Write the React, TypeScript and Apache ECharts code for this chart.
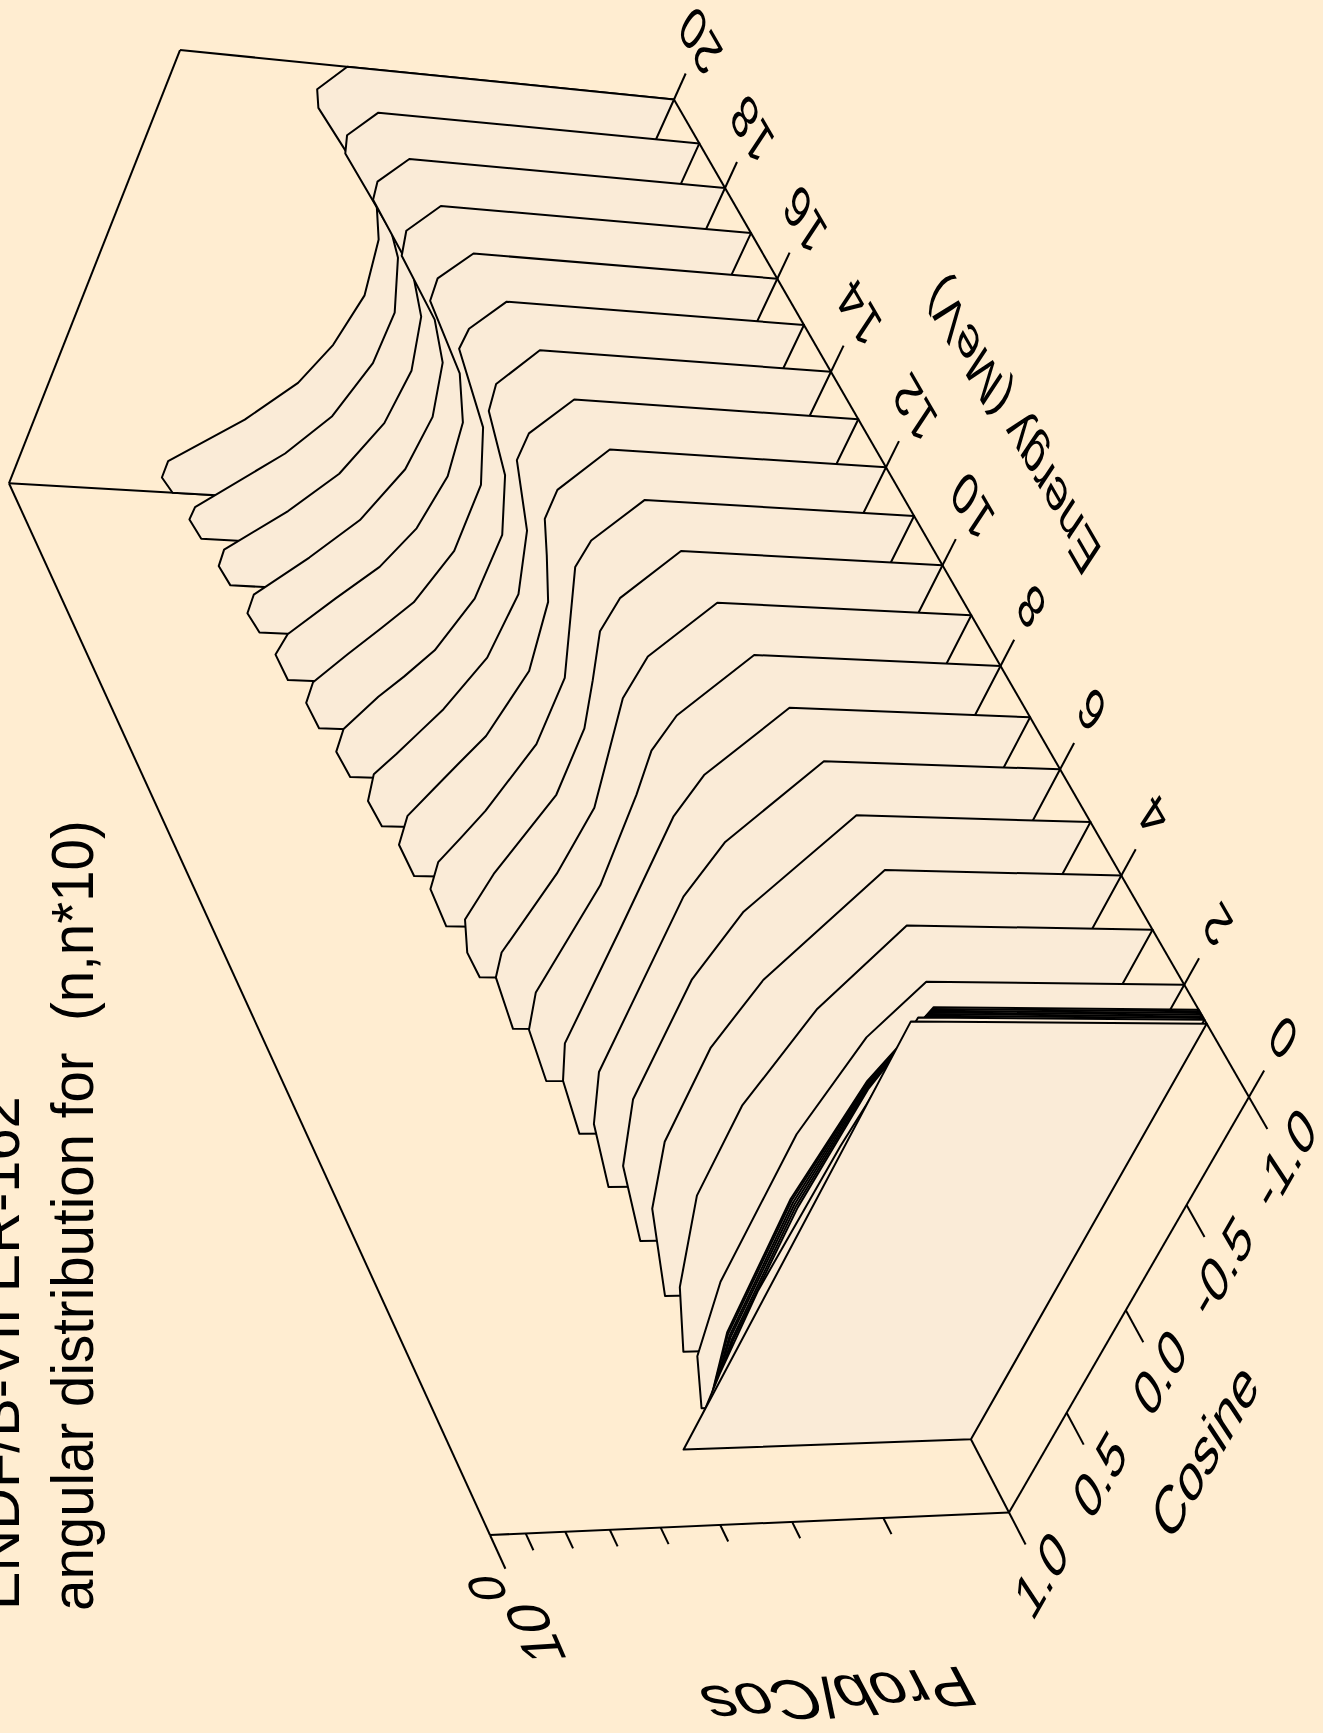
import React, { useEffect, useRef } from "react";
import * as echarts from "echarts";

const titleLines = ["ENDF/B-VII ER-162", "angular distribution for  (n,n*10)"];
const energyTicks = [0, 2, 4, 6, 8, 10, 12, 14, 16, 18, 20];
const cosTicks = [1, 0.5, 0, -0.5, -1];
const cosTickLabels = ["1.0", "0.5", "0.0", "-0.5", "-1.0"];
const probMinorTicks = [0.3, 0.4, 0.5, 0.6, 0.7, 0.8, 0.9];

const cosE20 = [-1, -0.89, -0.81, -0.43, -0.25, 0.01, 0.25, 0.44, 0.63, 0.85, 0.93, 1];
const probE20 = [0.59, 0.629, 0.612, 0.453, 0.426, 0.413, 0.427, 0.454, 0.513, 0.621, 0.62, 0.587];
const cosE19 = [-1, -0.89, -0.81, -0.48, -0.37, -0.12, 0.12, 0.38, 0.57, 0.85, 0.91, 1];
const probE19 = [0.577, 0.617, 0.606, 0.473, 0.448, 0.42, 0.42, 0.445, 0.492, 0.611, 0.612, 0.574];
const cosE18 = [-1, -0.89, -0.81, -0.5, -0.31, -0.06, 0.19, 0.44, 0.63, 0.83, 0.91, 1];
const probE18 = [0.565, 0.605, 0.599, 0.48, 0.441, 0.422, 0.428, 0.461, 0.516, 0.601, 0.598, 0.561];
const cosE17 = [-1, -0.88, -0.77, -0.5, -0.31, -0.06, 0.19, 0.44, 0.63, 0.82, 0.91, 1];
const probE17 = [0.553, 0.595, 0.584, 0.484, 0.445, 0.426, 0.432, 0.465, 0.519, 0.589, 0.586, 0.549];
const cosE16 = [-1, -0.88, -0.78, -0.47, -0.25, 0, 0.25, 0.44, 0.6, 0.78, 0.88, 1];
const probE16 = [0.54, 0.583, 0.579, 0.479, 0.443, 0.431, 0.442, 0.471, 0.519, 0.575, 0.581, 0.539];
const cosE15 = [-1, -0.87, -0.78, -0.44, -0.18, 0.13, 0.38, 0.51, 0.64, 0.78, 0.88, 1];
const probE15 = [0.527, 0.57, 0.572, 0.477, 0.443, 0.439, 0.464, 0.496, 0.532, 0.571, 0.567, 0.525];
const cosE14 = [-1, -0.84, -0.72, -0.44, -0.17, 0.13, 0.38, 0.51, 0.61, 0.77, 0.88, 1];
const probE14 = [0.515, 0.562, 0.554, 0.482, 0.447, 0.445, 0.469, 0.498, 0.525, 0.56, 0.555, 0.512];
const cosE13 = [-1, -0.84, -0.72, -0.41, -0.12, 0.18, 0.43, 0.54, 0.65, 0.75, 0.88, 1];
const probE13 = [0.502, 0.55, 0.55, 0.483, 0.453, 0.456, 0.486, 0.507, 0.529, 0.552, 0.541, 0.499];
const cosE12 = [-1, -0.81, -0.68, -0.52, -0.31, 0.01, 0.32, 0.45, 0.58, 0.71, 0.85, 1];
const probE12 = [0.488, 0.541, 0.54, 0.51, 0.475, 0.456, 0.475, 0.497, 0.519, 0.542, 0.534, 0.486];
const cosE11 = [-1, -0.81, -0.69, -0.19, 0.12, 0.44, 0.57, 0.69, 0.82, 1];
const probE11 = [0.476, 0.529, 0.535, 0.471, 0.467, 0.497, 0.516, 0.535, 0.527, 0.474];
const cosE10 = [-1, -0.78, -0.63, -0.41, -0.19, 0.12, 0.5, 0.72, 0.88, 1];
const probE10 = [0.463, 0.521, 0.528, 0.503, 0.481, 0.476, 0.515, 0.527, 0.498, 0.461];
const cosE9 = [-1, -0.75, -0.56, -0.06, 0.25, 0.63, 0.75, 1];
const probE9 = [0.451, 0.515, 0.523, 0.486, 0.495, 0.523, 0.513, 0.449];
const cosE8 = [-1, -0.72, -0.56, -0.36, 0.06, 0.57, 0.75, 1];
const probE8 = [0.439, 0.508, 0.521, 0.511, 0.499, 0.519, 0.501, 0.438];
const cosE7 = [-1, -0.69, -0.5, 0.02, 0.56, 0.74, 1];
const probE7 = [0.43, 0.504, 0.52, 0.517, 0.516, 0.49, 0.428];
const cosE6 = [-1, -0.63, -0.38, 0.44, 0.69, 1];
const probE6 = [0.423, 0.505, 0.528, 0.524, 0.491, 0.424];
const cosE5 = [-1, -0.56, -0.25, 0.31, 0.63, 1];
const probE5 = [0.419, 0.509, 0.537, 0.535, 0.497, 0.417];
const cosE4 = [-1, -0.5, -0.19, 0.25, 0.57, 1];
const probE4 = [0.421, 0.513, 0.542, 0.539, 0.504, 0.42];
const cosE3 = [-1, -0.62, -0.18, 0.24, 0.68, 1];
const probE3 = [0.432, 0.497, 0.536, 0.534, 0.486, 0.432];
const cosE2 = [-1, -0.75, -0.31, 0.38, 0.74, 1];
const probE2 = [0.447, 0.49, 0.519, 0.517, 0.492, 0.445];
const cosNearThreshold = [-1, -0.81, -0.67, -0.13, 0.5, 0.86, 1];
const probE155 = [0.456, 0.478, 0.495, 0.517, 0.506, 0.474, 0.455];
const probE152 = [0.458, 0.48, 0.497, 0.517, 0.506, 0.476, 0.457];
const probE149 = [0.461, 0.482, 0.498, 0.516, 0.505, 0.477, 0.46];
const probE146 = [0.464, 0.484, 0.499, 0.515, 0.505, 0.479, 0.463];
const probE143 = [0.468, 0.486, 0.5, 0.514, 0.504, 0.481, 0.467];
const probE140 = [0.473, 0.489, 0.501, 0.513, 0.504, 0.483, 0.472];
const cosE137 = [-1, -0.61, -0.42, 0.25, 0.65, 1];
const probE137 = [0.486, 0.494, 0.5, 0.509, 0.5, 0.487];
const cosE130 = [-1, 1];
const probE130 = [0.5, 0.5];

const curves: [number, number[], number[]][] = [
  [20, cosE20, probE20], [19, cosE19, probE19], [18, cosE18, probE18], [17, cosE17, probE17],
  [16, cosE16, probE16], [15, cosE15, probE15], [14, cosE14, probE14], [13, cosE13, probE13],
  [12, cosE12, probE12], [11, cosE11, probE11], [10, cosE10, probE10], [9, cosE9, probE9],
  [8, cosE8, probE8], [7, cosE7, probE7], [6, cosE6, probE6], [5, cosE5, probE5],
  [4, cosE4, probE4], [3, cosE3, probE3], [2, cosE2, probE2],
  [1.55, cosNearThreshold, probE155], [1.52, cosNearThreshold, probE152],
  [1.49, cosNearThreshold, probE149], [1.46, cosNearThreshold, probE146],
  [1.43, cosNearThreshold, probE143], [1.4, cosNearThreshold, probE140],
  [1.37, cosE137, probE137], [1.3, cosE130, probE130],
];

const BG = "#FFEDD1";
const FILL = "#FAEBD7";
const FONT = '"Liberation Sans", Arial, sans-serif';
const LINE = 2;
const P_MIN = 0.2;
const P_MAX = 1;

// perspective view of the (cosine, energy, log prob) box
function project(cos: number, energy: number, prob: number): [number, number] {
  const u = (1 - cos) / 2;
  const v = energy / 20;
  const w = Math.log(prob / P_MIN) / Math.log(P_MAX / P_MIN);
  const hx = 1009 + 176 * u - 455.2 * v - 544.1 * w;
  const hy = 1512.5 - 471.7 * u - 933.1 * v - 56.1 * w;
  const hw = 1 - 0.0512 * u + 0.134 * v - 0.0512 * w;
  return [hx / hw, hy / hw];
}

const TICK_E = 0.56; // energy units
const TICK_C = 0.12; // cosine units

type Seg = [number, number, number, number, number, number];
const frameSegments: Seg[] = [
  [1, 0, P_MIN, -1, 0, P_MIN],
  [-1, 0, P_MIN, -1, 20, P_MIN],
  [1, 0, P_MIN, 1, 20, P_MIN],
  [1, 0, P_MIN, 1, 0, P_MAX],
  [1, 0, P_MAX, 1, 20, P_MAX],
  [1, 20, P_MAX, -1, 20, P_MAX],
  [-1, 20, P_MAX, -1, 20, P_MIN],
  [1, 20, P_MAX, 1, 20, P_MIN],
  ...energyTicks.map((e): Seg => [-1, e, P_MIN, -1 - TICK_C, e, P_MIN]),
  ...cosTicks.map((c): Seg => [c, 0, P_MIN, c, -TICK_E, P_MIN]),
  [1, 0, P_MAX, 1, -TICK_E, P_MAX],
  ...probMinorTicks.map((p): Seg => [1, 0, p, 1, -TICK_E / 2, p]),
];

type Label = { text: string; pos: [number, number, number]; dx?: number; dy?: number; size: number; a: number[]; b: number[] };
const A_E = [-0.5, -0.866];
const B_E = [-0.5, 0.866];
const A_C = [0.5, -0.866];
const B_C = [-0.5, -0.866];
const labels: Label[] = [
  ...energyTicks.map((e): Label => ({ text: String(e), pos: [-1.27, e, P_MIN], size: 52, a: A_E, b: B_E })),
  ...cosTicks.map((c, i): Label => ({ text: cosTickLabels[i], pos: [c, -1.08, P_MIN], size: 55, a: A_C, b: B_C })),
  { text: "Energy (MeV)", pos: [-1.63, 10, P_MIN], size: 52, a: A_E, b: B_E },
  { text: "Cosine", pos: [-0.01, -2.45, P_MIN], size: 58, a: A_C, b: B_C },
  { text: "Prob/Cos", pos: [1, -2.9, 0.45], size: 64, a: [-0.995, 0.08], b: [0.5, 0.866] },
  { text: "10", pos: [1, 0, P_MAX], dx: 45, dy: 98, size: 58, a: [-0.4, -0.916], b: [-1, 0.04] },
  { text: "0", pos: [1, 0, P_MAX], dx: -3, dy: 53, size: 50, a: [-0.4, -0.916], b: [-1, 0.04] },
];

function shear(a: number[], b: number[]) {
  const rotation = Math.atan2(-a[1], a[0]);
  const nx = -a[1];
  const ny = a[0];
  const t = -b[0] * a[0] - b[1] * a[1];
  const n = -b[0] * nx - b[1] * ny;
  return { rotation, skewX: Math.atan(t), scaleY: n };
}

export default function App() {
  const ref = useRef<HTMLDivElement>(null);
  useEffect(() => {
    document.body.style.margin = "0";
    document.body.style.background = BG;
    const chart = echarts.init(ref.current!, undefined, { renderer: "svg" });
    const hiddenAxis = { type: "value", show: false };
    chart.setOption({
      animation: false,
      backgroundColor: BG,
      grid: { left: 0, right: 0, top: 0, bottom: 0 },
      xAxis: { ...hiddenAxis, min: 0, max: 1323 },
      yAxis: { ...hiddenAxis, min: 0, max: 1733, inverse: true },
      graphic: [
        { type: "text", x: -32, y: 1610, rotation: Math.PI / 2, scaleX: 0.963, style: { text: titleLines[0], font: `60px ${FONT}`, fill: "#000", align: "left", verticalAlign: "top" } },
        { type: "text", x: 42, y: 1611, rotation: Math.PI / 2, scaleX: 0.941, style: { text: titleLines[1], font: `60px ${FONT}`, fill: "#000", align: "left", verticalAlign: "top" } },
      ],
      series: [
        {
          type: "custom",
          coordinateSystem: "cartesian2d",
          clip: false,
          silent: true,
          z: 1,
          data: frameSegments.map((_, i) => [i]),
          renderItem: (params: any, api: any) => {
            const s = frameSegments[params.dataIndex];
            return {
              type: "polyline",
              shape: { points: [api.coord(project(s[0], s[1], s[2])), api.coord(project(s[3], s[4], s[5]))] },
              style: { stroke: "#000", fill: "none", lineWidth: LINE },
            };
          },
        },
        {
          type: "custom",
          coordinateSystem: "cartesian2d",
          clip: false,
          silent: true,
          z: 2,
          data: curves.map((_, i) => [i]),
          renderItem: (params: any, api: any) => {
            const [e, cos, prob] = curves[params.dataIndex];
            const pts = [project(cos[0], e, P_MIN)];
            cos.forEach((c, i) => pts.push(project(c, e, prob[i])));
            pts.push(project(cos[cos.length - 1], e, P_MIN));
            return {
              type: "polygon",
              shape: { points: pts.map((p) => api.coord(p)) },
              style: { fill: FILL, stroke: "#000", lineWidth: LINE, lineJoin: "round" },
            };
          },
        },
        {
          type: "custom",
          coordinateSystem: "cartesian2d",
          clip: false,
          silent: true,
          z: 3,
          data: labels.map((_, i) => [i]),
          renderItem: (params: any, api: any) => {
            const l = labels[params.dataIndex];
            const [x, y] = api.coord(project(l.pos[0], l.pos[1], l.pos[2]));
            return {
              type: "text",
              x: x + (l.dx || 0),
              y: y + (l.dy || 0),
              ...shear(l.a, l.b),
              style: { text: l.text, font: `${l.size}px ${FONT}`, fill: "#000", align: "center", verticalAlign: "middle" },
            };
          },
        },
      ],
    });
    return () => chart.dispose();
  }, []);
  return <div ref={ref} style={{ width: 1323, height: 1733 }} />;
}
